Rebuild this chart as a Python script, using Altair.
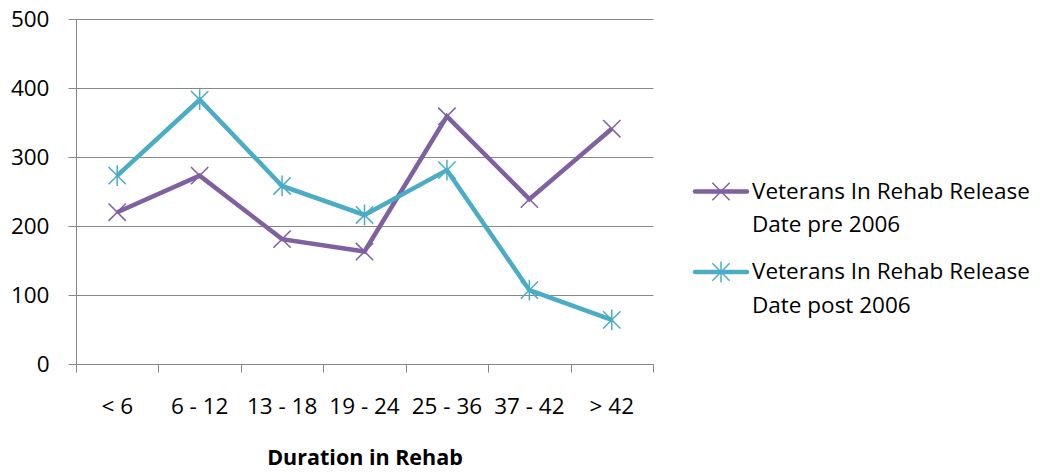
import altair as alt
import pandas as pd

categories = ["< 6", "6 - 12", "13 - 18", "19 - 24", "25 - 36", "37 - 42", "> 42"]
pre_2006 = [220, 273, 181, 163, 359, 239, 341]
post_2006 = [273, 383, 258, 216, 281, 107, 64]
series_names = ["Veterans In Rehab Release Date pre 2006", "Veterans In Rehab  Release Date post 2006"]
legend_lines = [["Veterans In Rehab Release", "Date pre 2006"], ["Veterans In Rehab  Release", "Date post 2006"]]
colors = ["#7F60A0", "#4BACC6"]
shapes = ["M-1,-1L1,1M-1,1L1,-1", "M-1,-1L1,1M-1,1L1,-1M0,-1.2L0,1.2"]
y_ticks = [0, 100, 200, 300, 400, 500]

FONT = "Open Sans"
FS = 22.5
W, H = 577, 345
GRID = "#878787"

rows = []
for s, vals in zip(series_names, [pre_2006, post_2006]):
    for i, (c, v) in enumerate(zip(categories, vals)):
        rows.append({"series": s, "cat": c, "pos": i + 0.5, "value": v})
df = pd.DataFrame(rows)
cat_df = pd.DataFrame({"cat": categories, "pos": [i + 0.5 for i in range(len(categories))]})

x_enc = alt.X("pos:Q", scale=alt.Scale(domain=[0, len(categories)], nice=False, zero=False),
              axis=alt.Axis(values=list(range(len(categories) + 1)), labels=False, grid=False,
                            tickSize=8, tickColor=GRID, domainColor=GRID, tickWidth=1, domainWidth=1,
                            title="Duration in Rehab", titleFont=FONT, titleFontSize=21.5,
                            titleFontWeight="bold", titleColor="#000000", titlePadding=75))
y_enc = alt.Y("value:Q", scale=alt.Scale(domain=[0, 500], nice=False),
              axis=alt.Axis(values=y_ticks, tickSize=8, tickColor=GRID, domainColor=GRID,
                            gridColor=GRID, gridWidth=1, gridOpacity=1, labelFont=FONT,
                            labelFontSize=FS, labelColor="#000000", labelPadding=19, title=None))

color_scale = alt.Scale(domain=series_names, range=colors)
shape_scale = alt.Scale(domain=series_names, range=shapes)

lines = alt.Chart(df).mark_line(strokeWidth=4.5).encode(
    x=x_enc, y=y_enc,
    color=alt.Color("series:N", scale=color_scale, legend=None),
    detail="series:N",
)
points = alt.Chart(df).mark_point(filled=False, size=300, strokeWidth=1.5, opacity=1).encode(
    x="pos:Q", y="value:Q",
    color=alt.Color("series:N", scale=color_scale, legend=None),
    shape=alt.Shape("series:N", scale=shape_scale, legend=None),
)
cat_labels = alt.Chart(cat_df).mark_text(font=FONT, fontSize=FS, color="#000000", baseline="middle").encode(
    x="pos:Q", y=alt.value(H + 43), text="cat:N"
)

layers = [lines, points, cat_labels]
legend_rows = [172.5, 253]
for k in range(2):
    y0 = legend_rows[k]
    d = alt.Data(values=[{"l1": legend_lines[k][0], "l2": legend_lines[k][1]}])
    layers.append(alt.Chart(d).mark_rule(color=colors[k], strokeWidth=4.5, strokeCap="round").encode(
        x=alt.value(619), x2=alt.value(671), y=alt.value(y0)))
    layers.append(alt.Chart(d).mark_point(shape=shapes[k], filled=False, size=300, strokeWidth=1.5,
                                          color=colors[k], opacity=1).encode(
        x=alt.value(645), y=alt.value(y0)))
    layers.append(alt.Chart(d).mark_text(font=FONT, fontSize=FS, color="#000000", align="left",
                                         baseline="middle").encode(
        x=alt.value(676), y=alt.value(y0), text="l1:N"))
    layers.append(alt.Chart(d).mark_text(font=FONT, fontSize=FS, color="#000000", align="left",
                                         baseline="middle").encode(
        x=alt.value(676), y=alt.value(y0 + 33.5), text="l2:N"))

chart = alt.layer(*layers).properties(
    width=W, height=H,
    autosize=alt.AutoSizeParams(type="none"),
    padding={"left": 76, "top": 19, "right": 1053 - 76 - W, "bottom": 475 - 19 - H},
    background="#ffffff",
).configure_view(stroke=None)

chart.save("out.html", embed_options={"renderer": "svg", "actions": False})
